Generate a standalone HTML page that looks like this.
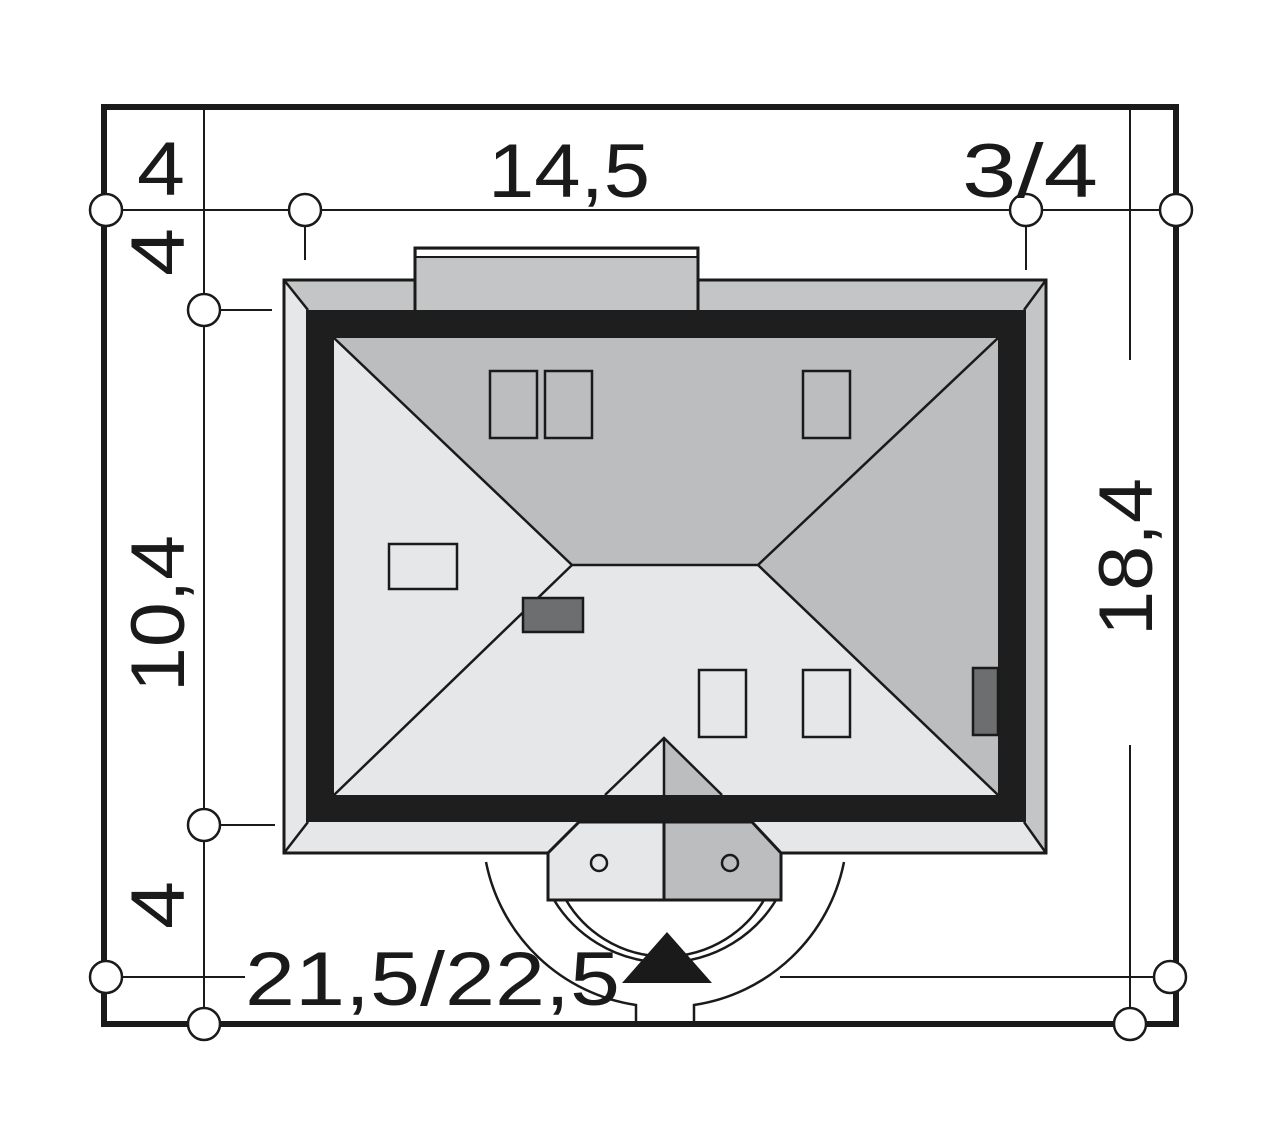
<!DOCTYPE html>
<html><head><meta charset="utf-8"><style>html,body{margin:0;padding:0;background:#fff}svg{display:block}</style></head>
<body>
<svg width="1280" height="1133" viewBox="0 0 1280 1133" xmlns="http://www.w3.org/2000/svg">
<rect width="1280" height="1133" fill="#fff"/>
<polygon points="284,280 1046,280 1026,310 306,310" fill="#c4c5c7"/>
<polygon points="284,280 306,310 306,822 284,853" fill="#e6e7e9"/>
<polygon points="1046,280 1046,853 1026,822 1026,310" fill="#c4c5c7"/>
<polygon points="284,853 306,822 1026,822 1046,853" fill="#e6e7e9"/>
<rect x="284" y="280" width="762" height="573" fill="none" stroke="#1a1a1a" stroke-width="3"/>
<g stroke="#1a1a1a" stroke-width="2.5"><line x1="284" y1="280" x2="308" y2="310"/><line x1="1046" y1="280" x2="1024" y2="310"/><line x1="284" y1="853" x2="308" y2="822"/><line x1="1046" y1="853" x2="1024" y2="822"/></g>
<rect x="415" y="248" width="283" height="64" fill="#c4c5c7" stroke="#1a1a1a" stroke-width="3"/>
<rect x="417" y="250" width="279" height="7" fill="#fff"/>
<line x1="415" y1="257" x2="698" y2="257" stroke="#1a1a1a" stroke-width="2"/>
<rect x="306" y="310" width="720" height="512" fill="#1e1e1e"/>
<polygon points="334,338 998,338 758,565 572,565" fill="#bcbdbf"/>
<polygon points="334,338 572,565 334,795" fill="#e6e7e9"/>
<polygon points="998,338 998,795 758,565" fill="#bcbdbf"/>
<polygon points="334,795 572,565 758,565 998,795" fill="#e6e7e9"/>
<g stroke="#1a1a1a" stroke-width="2.5" fill="none">
<polyline points="334,338 572,565 758,565 998,338"/>
<line x1="572" y1="565" x2="334" y2="795"/><line x1="758" y1="565" x2="998" y2="795"/>
</g>
<g stroke="#1a1a1a" stroke-width="2.5" fill="none">
<rect x="490" y="371" width="47" height="67"/><rect x="545" y="371" width="47" height="67"/>
<rect x="803" y="371" width="47" height="67"/><rect x="389" y="544" width="68" height="45"/>
<rect x="699" y="670" width="47" height="67"/><rect x="803" y="670" width="47" height="67"/>
<rect x="523" y="598" width="60" height="34" fill="#6d6e70"/>
<rect x="973" y="668" width="25" height="67" fill="#6d6e70"/>
</g>
<polygon points="664,738 664,795 722,795" fill="#bcbdbf"/>
<polyline points="605,795 664,738 722,795" fill="none" stroke="#1a1a1a" stroke-width="2.5"/>
<line x1="664" y1="738" x2="664" y2="795" stroke="#1a1a1a" stroke-width="2.5"/>
<rect x="600" y="795" width="130" height="27" fill="#1e1e1e"/>
<polygon points="579,822 664,822 664,900 548,900 548,853" fill="#e6e7e9"/>
<polygon points="664,822 752,822 781,853 781,900 664,900" fill="#bcbdbf"/>
<polygon points="579,822 752,822 781,853 781,900 548,900 548,853" fill="none" stroke="#1a1a1a" stroke-width="3"/>
<line x1="664" y1="822" x2="664" y2="900" stroke="#1a1a1a" stroke-width="3"/>
<circle cx="599" cy="863" r="8" fill="none" stroke="#1a1a1a" stroke-width="2.5"/>
<circle cx="730" cy="863" r="8" fill="none" stroke="#1a1a1a" stroke-width="2.5"/>
<g stroke="#1a1a1a" stroke-width="2.5" fill="none">
<path d="M486,862 A180,180 0 0 0 636,1005 L636,1022"/>
<path d="M844,862 A180,180 0 0 1 694,1005 L694,1022"/>
<path d="M566,900 A115,115 0 0 0 764,900"/>
<path d="M554,900 A130,130 0 0 0 776,900"/>
</g>
<polygon points="622,983 712,983 667,932" fill="#1a1a1a"/>
<rect x="104" y="107" width="1072" height="917" fill="none" stroke="#1a1a1a" stroke-width="6"/>
<g stroke="#1a1a1a" stroke-width="2" fill="none">
<line x1="204" y1="110" x2="204" y2="1022"/>
<line x1="1130" y1="110" x2="1130" y2="360"/><line x1="1130" y1="745" x2="1130" y2="1022"/>
<line x1="106" y1="210" x2="1176" y2="210"/>
<line x1="305" y1="226" x2="305" y2="260"/><line x1="1026" y1="226" x2="1026" y2="270"/>
<line x1="220" y1="310" x2="272" y2="310"/><line x1="220" y1="825" x2="275" y2="825"/>
<line x1="106" y1="977" x2="245" y2="977"/><line x1="780" y1="977" x2="1170" y2="977"/>
</g>
<g fill="#fff" stroke="#1a1a1a" stroke-width="2.5">
<circle cx="106" cy="210" r="16"/><circle cx="305" cy="210" r="16"/><circle cx="1026" cy="210" r="16"/><circle cx="1176" cy="210" r="16"/>
<circle cx="204" cy="310" r="16"/><circle cx="204" cy="825" r="16"/><circle cx="204" cy="1024" r="16"/>
<circle cx="106" cy="977" r="16"/><circle cx="1170" cy="977" r="16"/><circle cx="1130" cy="1024" r="16"/>
</g>
<g font-family="Liberation Sans, sans-serif" font-size="76" fill="#1a1a1a">
<text x="137" y="195" textLength="48" lengthAdjust="spacingAndGlyphs">4</text>
<text x="488" y="197" textLength="162" lengthAdjust="spacingAndGlyphs">14,5</text>
<text x="962" y="197" textLength="136" lengthAdjust="spacingAndGlyphs">3/4</text>
<text x="245" y="1005" textLength="375" lengthAdjust="spacingAndGlyphs">21,5/22,5</text>
<text transform="translate(184,276) rotate(-90)" textLength="48" lengthAdjust="spacingAndGlyphs">4</text>
<text transform="translate(184,692) rotate(-90)" textLength="157" lengthAdjust="spacingAndGlyphs">10,4</text>
<text transform="translate(184,929) rotate(-90)" textLength="48" lengthAdjust="spacingAndGlyphs">4</text>
<text transform="translate(1152,636) rotate(-90)" textLength="158" lengthAdjust="spacingAndGlyphs">18,4</text>
</g>
</svg>
</body></html>
